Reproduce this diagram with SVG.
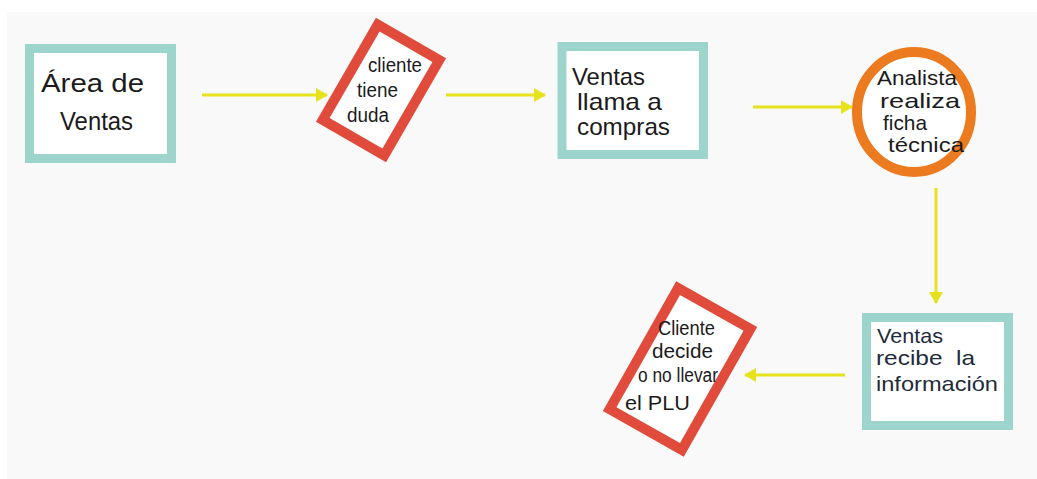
<svg xmlns="http://www.w3.org/2000/svg" width="1037" height="479" viewBox="0 0 1037 479">
  <defs>
    <style>
      .box { fill: #ffffff; stroke: #9dd5cc; stroke-width: 9; }
      .dec { fill: #ffffff; stroke: #e04b3b; stroke-width: 10; }
      .circ { fill: #ffffff; stroke: #ec7a1f; stroke-width: 10; }
      .lbl { font-family: "Liberation Sans Narrow", "Liberation Sans", Arial, sans-serif; fill: #1b1b1b; }
      .lbl3 { font-family: "Liberation Sans Narrow", "Liberation Sans", Arial, sans-serif; fill: #1f2b3b; }
      .conn { stroke: #e6e21c; stroke-width: 3; fill: none; marker-end: url(#arr); }
    </style>
    <marker id="arr" viewBox="0 0 12 14" refX="11" refY="7" markerWidth="12" markerHeight="14" markerUnits="userSpaceOnUse" orient="auto">
      <path d="M0,0 L12,7 L0,14 Z" fill="#e6e21c"/>
    </marker>
  </defs>
  <rect x="0" y="0" width="1037" height="479" fill="#ffffff"/>
  <rect x="7" y="12" width="1030" height="467" fill="#f9f9f9"/>

  <g id="connectors">
    <line class="conn" x1="202" y1="95" x2="327" y2="95"/>
    <line class="conn" x1="446" y1="95" x2="545" y2="95"/>
    <line class="conn" x1="753" y1="107" x2="852" y2="107"/>
    <line class="conn" x1="936" y1="188" x2="936" y2="303"/>
    <line class="conn" x1="845" y1="375" x2="745" y2="375"/>
  </g>

  <g id="area-ventas">
    <rect class="box" x="29.5" y="48.5" width="142" height="110"/>
    <text class="lbl" x="41" y="92" font-size="26" textLength="103" lengthAdjust="spacingAndGlyphs">Área de</text>
    <text class="lbl" x="60" y="130" font-size="26" textLength="73" lengthAdjust="spacingAndGlyphs">Ventas</text>
  </g>

  <g id="cliente-duda">
    <rect class="dec" x="-35.5" y="-55" width="71" height="110" transform="translate(381 90) rotate(30)"/>
    <text class="lbl" x="368" y="72" font-size="20" textLength="54" lengthAdjust="spacingAndGlyphs">cliente</text>
    <text class="lbl" x="357" y="97" font-size="20" textLength="41" lengthAdjust="spacingAndGlyphs">tiene</text>
    <text class="lbl" x="347" y="122" font-size="20" textLength="42" lengthAdjust="spacingAndGlyphs">duda</text>
  </g>

  <g id="ventas-compras">
    <rect class="box" x="562" y="46.5" width="141.5" height="108"/>
    <text class="lbl" x="572" y="85" font-size="24" textLength="73" lengthAdjust="spacingAndGlyphs">Ventas</text>
    <text class="lbl" x="577" y="110" font-size="24" textLength="85" lengthAdjust="spacingAndGlyphs">llama a</text>
    <text class="lbl" x="577" y="135" font-size="24" textLength="93" lengthAdjust="spacingAndGlyphs">compras</text>
  </g>

  <g id="analista">
    <ellipse class="circ" cx="914" cy="112" rx="57" ry="60"/>
    <text class="lbl" x="877" y="85" font-size="21" textLength="80" lengthAdjust="spacingAndGlyphs">Analista</text>
    <text class="lbl" x="880" y="108" font-size="21" textLength="80" lengthAdjust="spacingAndGlyphs">realiza</text>
    <text class="lbl" x="883" y="130" font-size="21" textLength="44" lengthAdjust="spacingAndGlyphs">ficha</text>
    <text class="lbl" x="888" y="152" font-size="21" textLength="76" lengthAdjust="spacingAndGlyphs">técnica</text>
  </g>

  <g id="ventas-recibe">
    <rect class="box" x="866.5" y="317.5" width="142" height="108"/>
    <text class="lbl3" x="877" y="343" font-size="21" textLength="66" lengthAdjust="spacingAndGlyphs">Ventas</text>
    <text class="lbl3" x="876" y="365" font-size="21" textLength="99" lengthAdjust="spacingAndGlyphs" xml:space="preserve">recibe  la</text>
    <text class="lbl3" x="876" y="391" font-size="21" textLength="122" lengthAdjust="spacingAndGlyphs">información</text>
  </g>

  <g id="cliente-decide">
    <rect class="dec" x="-41.5" y="-69.5" width="83" height="139" transform="translate(680 369) rotate(29.5)"/>
    <text class="lbl" x="658" y="335" font-size="20" textLength="57" lengthAdjust="spacingAndGlyphs">Cliente</text>
    <text class="lbl" x="652" y="358" font-size="20" textLength="61" lengthAdjust="spacingAndGlyphs">decide</text>
    <text class="lbl" x="638" y="382" font-size="20" textLength="80" lengthAdjust="spacingAndGlyphs">o no llevar</text>
    <text class="lbl" x="625" y="410" font-size="20" textLength="65" lengthAdjust="spacingAndGlyphs">el PLU</text>
  </g>
</svg>
